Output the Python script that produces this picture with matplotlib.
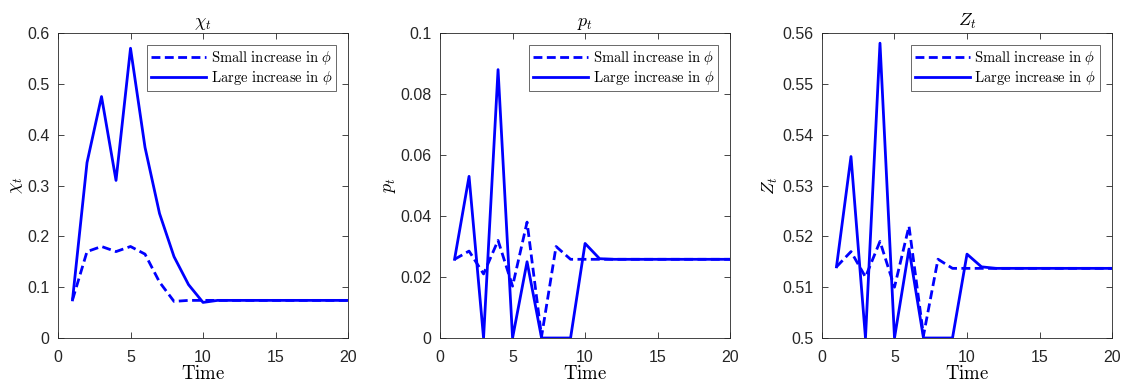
import matplotlib
matplotlib.use("Agg")
import matplotlib.pyplot as plt

plt.rcParams['mathtext.fontset'] = 'cm'
plt.rcParams['font.family'] = ['Liberation Sans', 'DejaVu Sans']

time = list(range(1, 21))

# chi_t
chi_small = [0.075, 0.170, 0.180, 0.170, 0.180, 0.165, 0.110, 0.072, 0.074, 0.074,
             0.074, 0.074, 0.074, 0.074, 0.074, 0.074, 0.074, 0.074, 0.074, 0.074]
chi_large = [0.075, 0.345, 0.475, 0.310, 0.570, 0.375, 0.245, 0.160, 0.105, 0.070,
             0.074, 0.074, 0.074, 0.074, 0.074, 0.074, 0.074, 0.074, 0.074, 0.074]

# p_t
p_small = [0.0258, 0.0285, 0.0210, 0.0320, 0.0170, 0.0380, 0.0005, 0.0300, 0.0258, 0.0258,
           0.0258, 0.0258, 0.0258, 0.0258, 0.0258, 0.0258, 0.0258, 0.0258, 0.0258, 0.0258]
p_large = [0.0258, 0.0530, 0.0, 0.0880, 0.0, 0.0250, 0.0, 0.0, 0.0, 0.0310,
           0.0260, 0.0258, 0.0258, 0.0258, 0.0258, 0.0258, 0.0258, 0.0258, 0.0258, 0.0258]

# Z_t
z_small = [0.5140, 0.5170, 0.5120, 0.5190, 0.5100, 0.5220, 0.5005, 0.5155, 0.5137, 0.5137,
           0.5137, 0.5137, 0.5137, 0.5137, 0.5137, 0.5137, 0.5137, 0.5137, 0.5137, 0.5137]
z_large = [0.5140, 0.5357, 0.5000, 0.5580, 0.5000, 0.5175, 0.5000, 0.5000, 0.5000, 0.5165,
           0.5140, 0.5137, 0.5137, 0.5137, 0.5137, 0.5137, 0.5137, 0.5137, 0.5137, 0.5137]

panels = [
    (r'$\chi_t$', chi_small, chi_large, (0, 0.6), [0, 0.1, 0.2, 0.3, 0.4, 0.5, 0.6],
     ['0', '0.1', '0.2', '0.3', '0.4', '0.5', '0.6']),
    (r'$p_t$', p_small, p_large, (0, 0.1), [0, 0.02, 0.04, 0.06, 0.08, 0.1],
     ['0', '0.02', '0.04', '0.06', '0.08', '0.1']),
    (r'$Z_t$', z_small, z_large, (0.5, 0.56), [0.5, 0.51, 0.52, 0.53, 0.54, 0.55, 0.56],
     ['0.5', '0.51', '0.52', '0.53', '0.54', '0.55', '0.56']),
]

lefts = [0.0517, 0.3922, 0.7326]

fig = plt.figure(figsize=(11.22, 3.83), dpi=100)

for left, (name, small, large, ylim, yticks, ylabels) in zip(lefts, panels):
    ax = fig.add_axes([left, 0.1175, 0.2585, 0.7963])
    ax.plot(time, small, color='#0000ff', lw=2, ls=(0, (3.2, 1.6)),
            label=r'$\mathrm{Small\ increase\ in\ }\phi$')
    ax.plot(time, large, color='#0000ff', lw=2, ls='-',
            label=r'$\mathrm{Large\ increase\ in\ }\phi$')
    ax.set_xlim(0, 20)
    ax.set_ylim(*ylim)
    ax.set_xticks([0, 5, 10, 15, 20])
    ax.set_yticks(yticks)
    ax.set_yticklabels(ylabels)
    ax.tick_params(direction='in', top=True, right=True, labelsize=11.5,
                   colors='#262626', length=4, width=0.6)
    ax.tick_params(axis='x', pad=9)
    ax.tick_params(axis='y', pad=6)
    for s in ax.spines.values():
        s.set_color('#262626')
        s.set_linewidth(0.6)
    ax.set_title(name, fontsize=13, pad=5)
    ax.set_xlabel(r'$\mathrm{Time}$', fontsize=13.5, labelpad=0)
    ax.set_ylabel(name, fontsize=13, labelpad=2)
    leg = ax.legend(loc='upper right', fontsize=10.5, frameon=True, fancybox=False,
                    borderaxespad=0.85, handlelength=3.8, handletextpad=0.3,
                    borderpad=0.25, labelspacing=0.15)
    leg.get_frame().set_edgecolor('#262626')
    leg.get_frame().set_linewidth(0.6)

fig.savefig('out.png', dpi=100)
